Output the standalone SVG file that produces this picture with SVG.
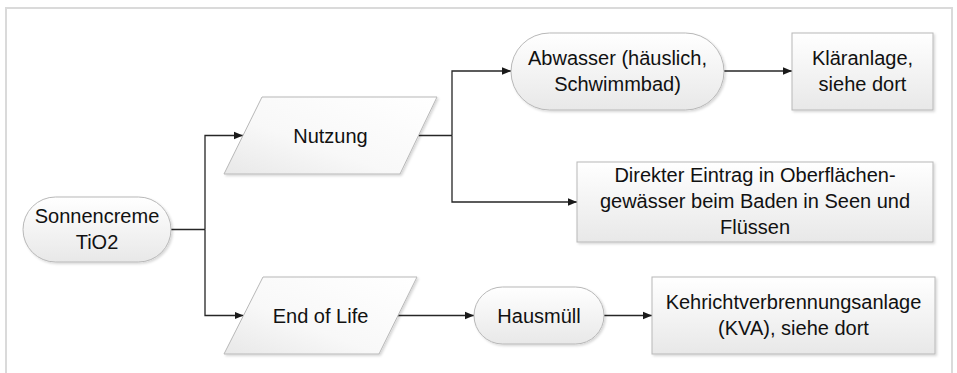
<svg xmlns="http://www.w3.org/2000/svg" width="957" height="373" viewBox="0 0 957 373">
  <defs>
    <linearGradient id="fillGrad" x1="0" y1="0" x2="0" y2="1">
      <stop offset="0" stop-color="#ffffff"/>
      <stop offset="1" stop-color="#e8e8e8"/>
    </linearGradient>
    <linearGradient id="paraGrad" x1="1" y1="0" x2="0" y2="1">
      <stop offset="0" stop-color="#ffffff"/>
      <stop offset="0.6" stop-color="#f8f8f8"/>
      <stop offset="1" stop-color="#e8e8e8"/>
    </linearGradient>
    <filter id="shadow" x="-10%" y="-10%" width="125%" height="130%">
      <feDropShadow dx="1.5" dy="1.5" stdDeviation="0.8" flood-color="#000000" flood-opacity="0.16"/>
    </filter>
    <marker id="arrow" viewBox="0 0 10 10" refX="10" refY="5" markerWidth="9" markerHeight="9" markerUnits="userSpaceOnUse" orient="auto">
      <path d="M0,0.8 L10,5 L0,9.2 Z" fill="#1a1a1a"/>
    </marker>
    <style>
      .shape { fill: url(#fillGrad); stroke: #b8b8b8; stroke-width: 1; filter: url(#shadow); }
      .para { fill: url(#paraGrad); stroke: #b8b8b8; stroke-width: 1; filter: url(#shadow); }
      .label { font-family: "Liberation Sans", Arial, sans-serif; font-size: 20px; fill: #111111; text-anchor: middle; }
      .wire { fill: none; stroke: #262626; stroke-width: 1.3; }
      .frame { fill: none; stroke: #dadada; stroke-width: 2; }
    </style>
  </defs>

  <rect x="0" y="0" width="957" height="373" fill="#ffffff"/>
  <rect class="frame" x="6" y="8" width="946" height="380"/>

  <g id="connectors">
    <polyline class="wire" points="171,229.5 205,229.5"/>
    <polyline class="wire" points="205,229.5 205,135.5 243,135.5" marker-end="url(#arrow)"/>
    <polyline class="wire" points="205,229.5 205,315.5 243.5,315.5" marker-end="url(#arrow)"/>
    <polyline class="wire" points="418.5,135.5 452,135.5"/>
    <polyline class="wire" points="452,135.5 452,71 511,71" marker-end="url(#arrow)"/>
    <polyline class="wire" points="452,135.5 452,202 577,202" marker-end="url(#arrow)"/>
    <polyline class="wire" points="724,71 792,71" marker-end="url(#arrow)"/>
    <polyline class="wire" points="398,315.5 474,315.5" marker-end="url(#arrow)"/>
    <polyline class="wire" points="604,315.5 652,315.5" marker-end="url(#arrow)"/>
  </g>

  <g id="sonnencreme">
    <rect class="shape" x="23" y="197" width="148" height="65" rx="32.5"/>
    <text class="label" x="97" y="223">Sonnencreme</text>
    <text class="label" x="97" y="249">TiO2</text>
  </g>

  <g id="nutzung">
    <polygon class="para" points="262,97 437,97 400,174 224,174"/>
    <text class="label" x="330.5" y="142.5">Nutzung</text>
  </g>

  <g id="end-of-life">
    <polygon class="para" points="263,277 417,277 379,354 224,354"/>
    <text class="label" x="320.5" y="322.5">End of Life</text>
  </g>

  <g id="abwasser">
    <rect class="shape" x="511" y="33" width="213" height="77" rx="38.5"/>
    <text class="label" x="617.5" y="64.5">Abwasser (häuslich,</text>
    <text class="label" x="617.5" y="90.5">Schwimmbad)</text>
  </g>

  <g id="klaeranlage">
    <rect class="shape" x="792" y="33" width="141" height="77"/>
    <text class="label" x="862.5" y="64.5">Kläranlage,</text>
    <text class="label" x="862.5" y="90.5">siehe dort</text>
  </g>

  <g id="direkter-eintrag">
    <rect class="shape" x="577" y="162" width="356" height="80"/>
    <text class="label" x="755" y="182">Direkter Eintrag in Oberflächen-</text>
    <text class="label" x="755" y="208">gewässer beim Baden in Seen und</text>
    <text class="label" x="755" y="234">Flüssen</text>
  </g>

  <g id="hausmuell">
    <rect class="shape" x="474" y="287" width="130" height="57" rx="28.5"/>
    <text class="label" x="539" y="322.5">Hausmüll</text>
  </g>

  <g id="kva">
    <rect class="shape" x="652" y="277" width="283" height="77"/>
    <text class="label" x="793.5" y="309">Kehrichtverbrennungsanlage</text>
    <text class="label" x="793.5" y="335">(KVA), siehe dort</text>
  </g>
</svg>
